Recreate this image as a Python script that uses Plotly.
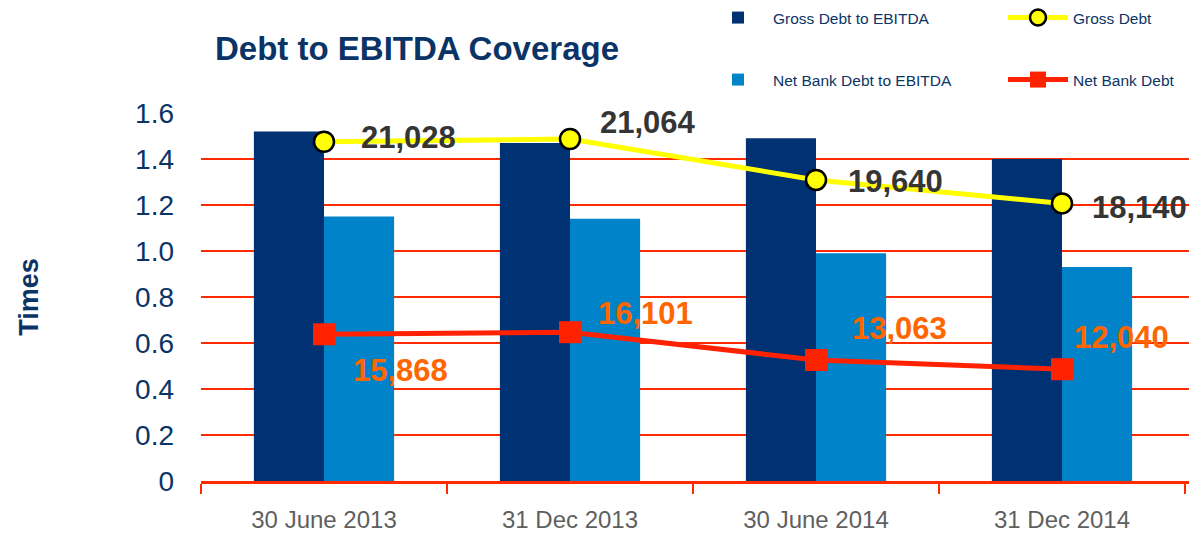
import plotly.graph_objects as go

categories = ["30 June 2013", "31 Dec 2013", "30 June 2014", "31 Dec 2014"]
gross_debt_to_ebitda = [1.52, 1.47, 1.49, 1.40]
net_bank_debt_to_ebitda = [1.15, 1.14, 0.99, 0.93]
gross_debt = [21028, 21064, 19640, 18140]
gross_debt_level = [1.475, 1.487, 1.309, 1.207]   # plotted height on Times axis
net_bank_debt = [15868, 16101, 13063, 12040]
net_bank_debt_level = [0.638, 0.647, 0.526, 0.486]  # plotted height on Times axis
y_tick_vals = [0, 0.2, 0.4, 0.6, 0.8, 1.0, 1.2, 1.4, 1.6]
y_tick_text = ["0", "0.2", "0.4", "0.6", "0.8", "1.0", "1.2", "1.4", "1.6"]

NAVY = "#003173"
LIGHT = "#0083C9"
YELLOW = "#FFFF00"
RED = "#FF2200"
GRID = "#FF2A00"
TXT = "#0B3466"

fig = go.Figure()
fig.add_trace(go.Bar(x=categories, y=gross_debt_to_ebitda, name="Gross Debt to EBITDA",
                     marker=dict(color=NAVY, line=dict(width=0)), legend="legend"))
fig.add_trace(go.Scatter(x=categories, y=gross_debt_level, name="Gross Debt", mode="lines+markers",
                         line=dict(color=YELLOW, width=5),
                         marker=dict(symbol="circle", size=20, color=YELLOW, line=dict(color="#000000", width=2.5)),
                         legend="legend"))
fig.add_trace(go.Bar(x=categories, y=net_bank_debt_to_ebitda, name="Net Bank Debt to EBITDA",
                     marker=dict(color=LIGHT, line=dict(width=0)), legend="legend2"))
fig.add_trace(go.Scatter(x=categories, y=net_bank_debt_level, name="Net Bank Debt", mode="lines+markers",
                         line=dict(color=RED, width=5),
                         marker=dict(symbol="square", size=22, color=RED),
                         legend="legend2"))

# label offsets (px) relative to markers
gross_shift = [(35, 4), (28, 16), (30, -2), (28, -4)]
net_shift = [(27, -36), (26, 19), (34, 32), (10, 32)]

for cat, lvl, val, (dx, dy) in zip(categories, gross_debt_level, gross_debt, gross_shift):
    fig.add_annotation(x=cat, y=lvl, text=f"{val:,}", showarrow=False, xanchor="left", yanchor="middle",
                       xshift=dx, yshift=dy,
                       font=dict(family="Liberation Sans, Arial", size=31, color="#353535", weight="bold"))
for cat, lvl, val, (dx, dy) in zip(categories, net_bank_debt_level, net_bank_debt, net_shift):
    fig.add_annotation(x=cat, y=lvl, text=f"{val:,}", showarrow=False, xanchor="left", yanchor="middle",
                       xshift=dx, yshift=dy,
                       font=dict(family="Liberation Sans, Arial", size=31, color="#FF6600", weight="bold"))

LEG_X = 703 / 1198

fig.update_layout(
    title=dict(text="<b>Debt to EBITDA Coverage</b>", xref="container", yref="container",
               x=215 / 1198, y=1 - 48 / 533, xanchor="left", yanchor="middle",
               font=dict(family="Liberation Sans, Arial", size=33, color=TXT)),
    width=1198, height=533,
    margin=dict(l=201, r=9, t=113, b=52, autoexpand=False),
    paper_bgcolor="white", plot_bgcolor="white",
    barmode="group", bargap=0.43, bargroupgap=0,
    font=dict(family="Liberation Sans, Arial", color=TXT),
    legend=dict(orientation="h", xref="container", yref="container", x=LEG_X, y=1 - 18 / 533, yanchor="middle",
                entrywidth=225, entrywidthmode="pixels", font=dict(size=15.5, color=TXT),
                bgcolor="rgba(0,0,0,0)", traceorder="normal", itemwidth=60),
    legend2=dict(orientation="h", xref="container", yref="container", x=LEG_X, y=1 - 80 / 533, yanchor="middle",
                 entrywidth=225, entrywidthmode="pixels", font=dict(size=15.5, color=TXT),
                 bgcolor="rgba(0,0,0,0)", traceorder="normal", itemwidth=60),
    showlegend=True,
)
fig.update_yaxes(range=[0, 1.6], tickvals=y_tick_vals, ticktext=y_tick_text, automargin=False,
                 showgrid=True, gridcolor=GRID, gridwidth=2,
                 zeroline=False, showline=False, ticks="",
                 ticklabelstandoff=26,
                 tickfont=dict(family="Liberation Sans, Arial", size=28, color=TXT),
                 title=dict(text="<b>Times</b>", font=dict(family="Liberation Sans, Arial", size=27, color=TXT),
                            standoff=88))
fig.update_xaxes(showgrid=False, showline=True, linecolor=GRID, linewidth=2.5, automargin=False,
                 ticks="outside", tickson="boundaries", ticklen=10, tickwidth=2, tickcolor=GRID,
                 ticklabelstandoff=15,
                 tickfont=dict(family="Liberation Sans, Arial", size=24, color="#5f5f5f"))

fig.write_html("out.html", config={"displayModeBar": False},
               post_script="document.body.style.margin='0';document.body.style.overflow='hidden';")
